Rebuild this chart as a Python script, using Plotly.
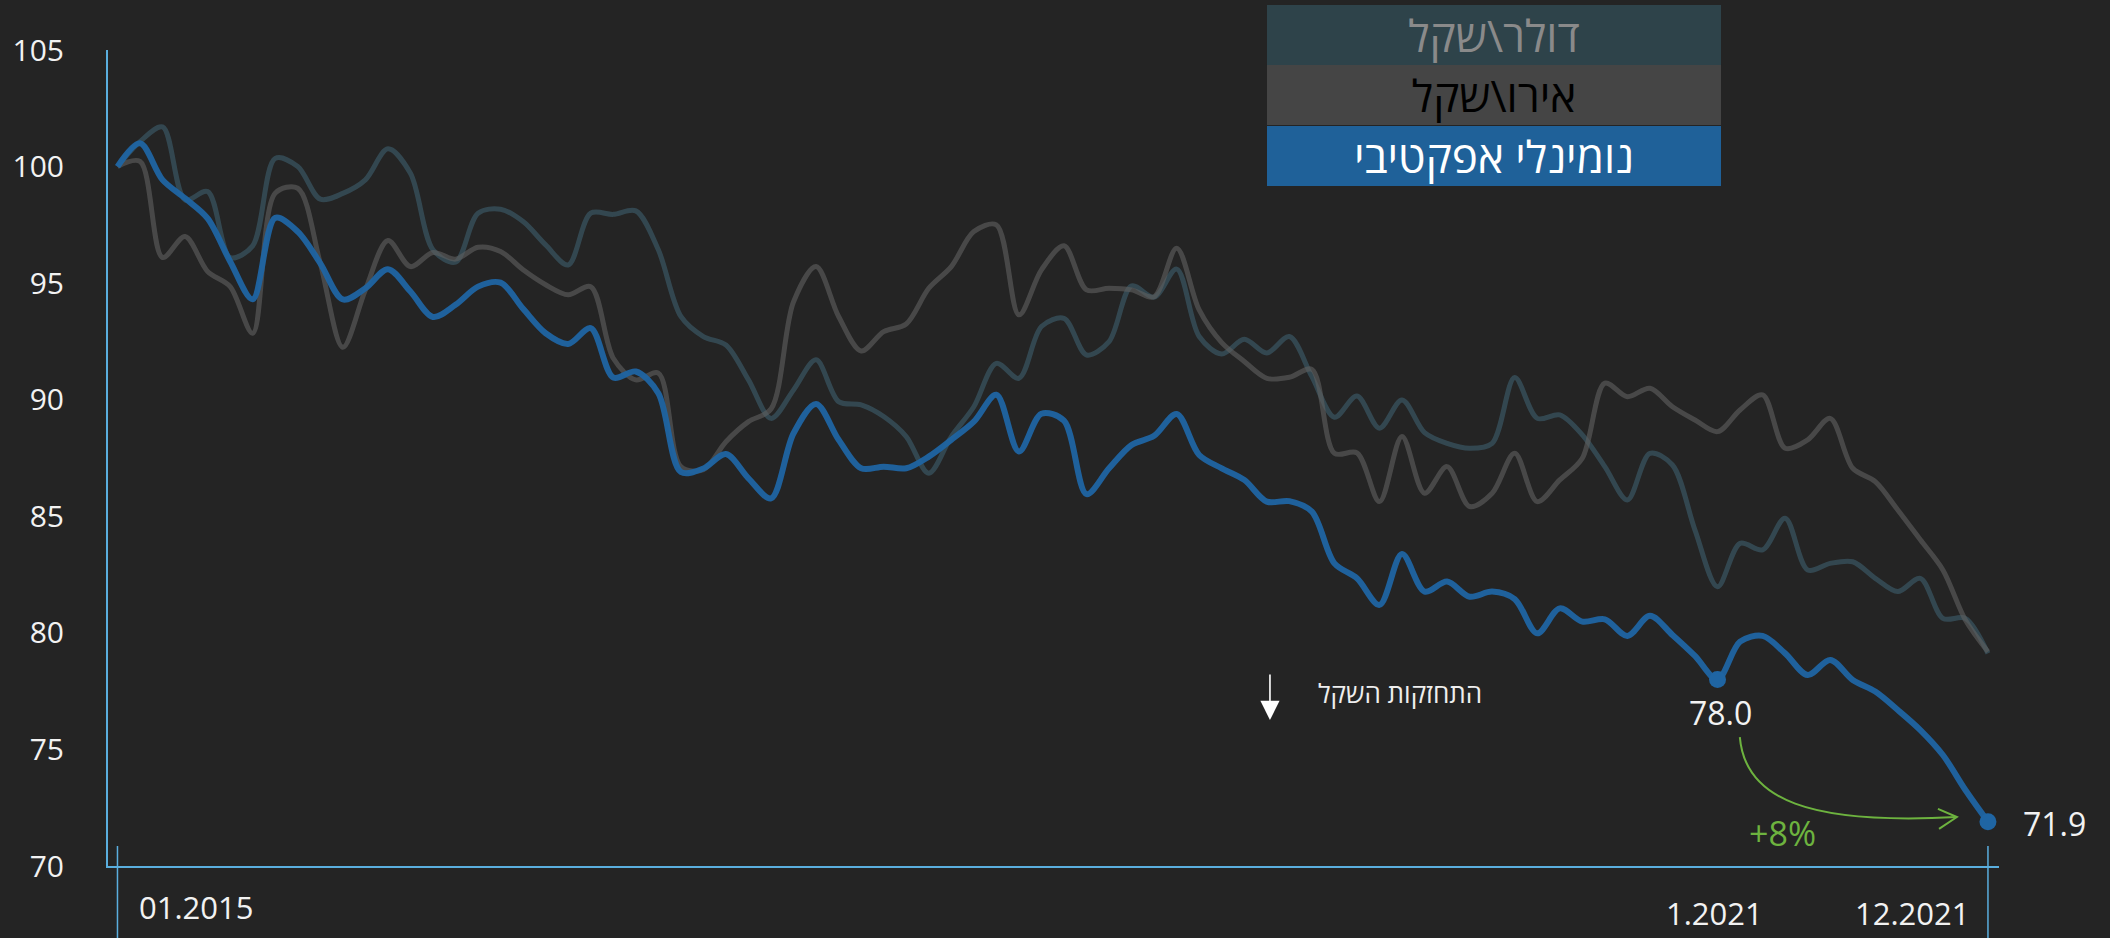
import plotly.graph_objects as go

# monthly index: 0 = 01.2015 ... 83 = 12.2021 (base 01.2015 = 100)
months = list(range(84))

nominal_effective = [
    100.0, 101.0, 99.43, 98.64, 97.78, 95.93, 94.31, 97.8, 97.21, 95.85,
    94.3, 94.78, 95.6, 94.64, 93.55, 94.07, 94.85, 95.02, 93.9, 92.85,
    92.39, 93.07, 90.95, 91.21, 90.28, 86.9, 87.05, 87.67, 86.63, 85.77,
    88.56, 89.82, 88.28, 87.06, 87.13, 87.06, 87.56, 88.28, 89.06, 90.21,
    87.78, 89.4, 89.1, 85.95, 87.06, 88.06, 88.45, 89.39, 87.63, 87.06,
    86.56, 85.63, 85.65, 85.2, 82.98, 82.34, 81.2, 83.38, 81.77, 82.2,
    81.55, 81.77, 81.45, 79.98, 81.05, 80.48, 80.58, 79.87, 80.73, 79.91,
    79.01, 78.0, 79.62, 79.87, 79.12, 78.19, 78.84, 77.98, 77.48, 76.69,
    75.83, 74.76, 73.26, 71.9,
]

usd_ils = [
    100.0, 101.07, 101.7, 98.57, 98.93, 96.1, 96.6, 100.35, 100.0, 98.6,
    98.85, 99.43, 100.76, 99.71, 96.43, 95.9, 98.0, 98.17, 97.64, 96.64,
    95.78, 98.0, 97.95, 98.1, 96.43, 93.57, 92.71, 92.35, 90.85, 89.2,
    90.42, 91.71, 89.92, 89.78, 89.28, 88.42, 86.85, 88.42, 89.7, 91.56,
    90.92, 93.14, 93.49, 91.92, 92.49, 94.88, 94.4, 95.6, 92.71, 91.96,
    92.59, 92.0, 92.71, 90.99, 89.25, 90.16, 88.78, 89.99, 88.59, 88.13,
    87.92, 88.13, 90.95, 89.2, 89.35, 88.49, 87.13, 85.7, 87.7, 87.2,
    84.41, 81.98, 83.84, 83.56, 84.92, 82.7, 82.98, 83.05, 82.34, 81.77,
    82.34, 80.62, 80.62, 79.12,
]

eur_ils = [
    100.0, 100.22, 96.1, 97.0, 95.5, 94.85, 92.85, 98.86, 99.07, 95.85,
    92.25, 94.71, 96.83, 95.71, 96.31, 96.03, 96.54, 96.36, 95.57, 94.93,
    94.5, 94.85, 91.78, 90.85, 91.14, 87.13, 87.0, 88.2, 89.06, 89.6,
    94.2, 95.71, 93.57, 92.09, 92.92, 93.25, 94.78, 95.71, 97.21, 97.5,
    93.64, 95.57, 96.6, 94.71, 94.78, 94.71, 94.42, 96.5, 93.85, 92.45,
    91.64, 90.92, 90.96, 91.3, 87.7, 87.72, 85.63, 88.42, 85.99, 87.13,
    85.42, 85.99, 87.7, 85.63, 86.56, 87.49, 90.71, 90.13, 90.49, 89.7,
    89.13, 88.63, 89.56, 90.21, 87.92, 88.28, 89.2, 87.06, 86.49, 85.27,
    83.99, 82.7, 80.55, 79.19,
]

x_labels = ["01.2015", "1.2021", "12.2021"]
legend_names = ["דולר\\שקל", "אירו\\שקל", "נומינלי אפקטיבי"]
y_ticks = [70, 75, 80, 85, 90, 95, 100, 105]

BG = "#242424"
AXIS = "#5aaede"
BLUE = "#1f65a3"
TEAL = "rgba(62,94,108,0.62)"
GREY = "rgba(96,96,96,0.62)"
GREEN = "#6db33f"
FONT = "Open Sans, Liberation Sans, DejaVu Sans, sans-serif"

i_start = 71   # 1.2021 point
i_end = 83     # 12.2021 point

fig = go.Figure()

fig.add_trace(go.Scatter(
    x=months, y=usd_ils, mode="lines", name=legend_names[0],
    line=dict(color=TEAL, width=5, shape="spline", smoothing=0.9),
))
fig.add_trace(go.Scatter(
    x=months, y=eur_ils, mode="lines", name=legend_names[1],
    line=dict(color=GREY, width=5, shape="spline", smoothing=0.9),
))
fig.add_trace(go.Scatter(
    x=months, y=nominal_effective, mode="lines", name=legend_names[2],
    line=dict(color=BLUE, width=6, shape="spline", smoothing=0.9),
    opacity=0.95,
))
fig.add_trace(go.Scatter(
    x=[months[i_start], months[i_end]],
    y=[nominal_effective[i_start], nominal_effective[i_end]],
    mode="markers", marker=dict(color=BLUE, size=17),
))

anns = []

# value labels on the two highlighted points
anns.append(dict(x=months[i_start], y=nominal_effective[i_start],
                 text=f"{nominal_effective[i_start]:.1f}", showarrow=False,
                 yshift=-33, xshift=3, font=dict(size=32, color="#f2f2f2", family=FONT)))
anns.append(dict(x=months[i_end], y=nominal_effective[i_end],
                 text=f"{nominal_effective[i_end]:.1f}", showarrow=False,
                 xanchor="left", xshift=33, yshift=-2,
                 font=dict(size=32, color="#f2f2f2", family=FONT)))

# percent change label
pct = round((nominal_effective[i_start] / nominal_effective[i_end] - 1) * 100)
anns.append(dict(x=73.9, y=71.42, text=f"+{pct}%", showarrow=False,
                 font=dict(size=34, color=GREEN, family=FONT)))

# "shekel strengthening" note with down arrow
anns.append(dict(x=56.9, y=77.42, text="התחזקות השקל", showarrow=False,
                 font=dict(size=26, color="#eeeeee", family=FONT)))
anns.append(dict(x=51.14, y=76.26, text="", showarrow=True, ax=0, ay=-47,
                 arrowhead=2, arrowsize=2.4, arrowwidth=1.6, arrowcolor="#ffffff"))

# x labels under the axis
anns.append(dict(x=months[0], y=0, yref="paper", text=x_labels[0], showarrow=False,
                 xanchor="left", yanchor="middle", xshift=20, yshift=-41,
                 font=dict(size=31, color="#f2f2f2", family=FONT)))
anns.append(dict(x=months[i_start], y=0, yref="paper", text=x_labels[1], showarrow=False,
                 xanchor="center", yanchor="middle", xshift=-3, yshift=-47,
                 font=dict(size=31, color="#f2f2f2", family=FONT)))
anns.append(dict(x=months[i_end], y=0, yref="paper", text=x_labels[2], showarrow=False,
                 xanchor="right", yanchor="middle", xshift=-16, yshift=-47,
                 font=dict(size=31, color="#f2f2f2", family=FONT)))

# legend boxes (top)
legend_bg = ["#2e434a", "#454545", "#1f6199"]
legend_fg = ["#8a8a8a", "#000000", "#ffffff"]
legend_y = [1.0184, 0.9449, 0.8707]
for name, bg, fg, ly in zip(legend_names, legend_bg, legend_fg, legend_y):
    anns.append(dict(xref="paper", yref="paper", x=0.73295, y=ly, text=name,
                     showarrow=False, xanchor="center", yanchor="middle",
                     width=454, height=60, bgcolor=bg, borderpad=0, borderwidth=0,
                     align="center", valign="middle",
                     font=dict(size=44, color=fg, family=FONT)))

shapes = [
    # long tick lines at the first and last month
    dict(type="line", xref="x", yref="paper", x0=months[0], x1=months[0],
         y0=0.0245, y1=-0.09, line=dict(color=AXIS, width=1.5)),
    dict(type="line", xref="x", yref="paper", x0=months[i_end], x1=months[i_end],
         y0=0.0245, y1=-0.09, line=dict(color=AXIS, width=1.5)),
    # thin separator between first two legend rows
    dict(type="line", xref="paper", yref="paper", x0=0.6129, x1=0.853,
         y0=0.9816, y1=0.9816, line=dict(color="#4d6670", width=1), layer="above"),
    # curved green arrow from 1.2021 to 12.2021
    dict(type="path", xref="x", yref="y",
         path="M 71.99,75.53 C 72.22,72.83 75.10,71.76 81.62,72.10",
         line=dict(color=GREEN, width=2)),
    dict(type="path", xref="x", yref="y",
         path="M 80.78,72.45 L 81.62,72.10 L 80.83,71.59",
         line=dict(color=GREEN, width=2)),
]

fig.update_layout(
    width=2110, height=938,
    paper_bgcolor=BG, plot_bgcolor=BG,
    margin=dict(l=108, r=111, t=50, b=72),
    showlegend=False,
    font=dict(family=FONT, color="#f2f2f2"),
    xaxis=dict(range=[-0.42, 83.49], showgrid=False, zeroline=False,
               showline=True, linecolor=AXIS, linewidth=2,
               showticklabels=False, ticks=""),
    yaxis=dict(range=[70, 105], tickvals=y_ticks, showgrid=False, zeroline=False,
               showline=True, linecolor=AXIS, linewidth=2, ticks="",
               ticklabelstandoff=36,
               tickfont=dict(size=30, color="#f2f2f2", family=FONT)),
    annotations=anns,
    shapes=shapes,
)

# remove the default page margin so the figure sits at the window origin
fig.write_html("out.html", config={"displayModeBar": False},
               post_script="document.body.style.margin='0';")
